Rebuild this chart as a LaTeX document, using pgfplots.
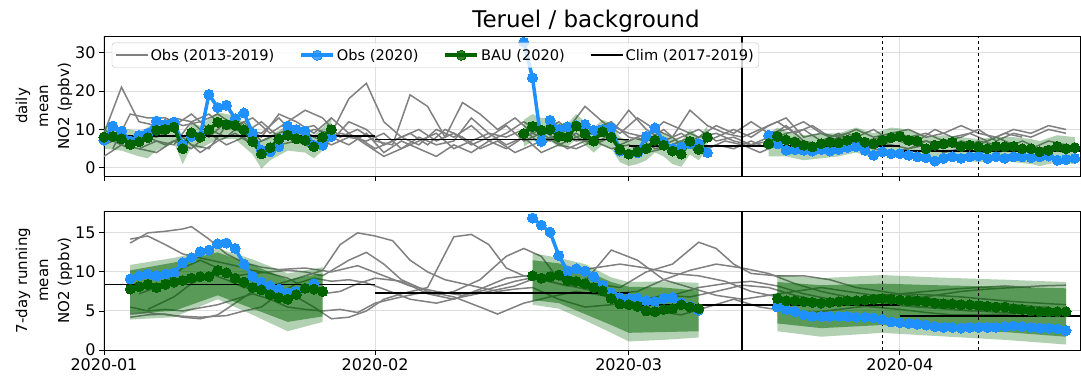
\documentclass[border=0pt]{standalone}
\usepackage{pgfplots}
\pgfplotsset{compat=1.18}
\usepackage{fontspec}
\setmainfont{DejaVu Sans}

\definecolor{obsblue}{RGB}{30,144,255}
\definecolor{baugreen}{RGB}{0,100,0}
\definecolor{gridgray}{RGB}{222,222,222}
\definecolor{greyobs}{RGB}{128,128,128}

\pgfplotsset{
  panel/.style={
    scale only axis, width=976pt,
    xmin=0, xmax=111.6,
    xtick={0,31,60,91},
    xtick pos=left, ytick pos=left,
    tick align=outside, major tick length=5pt,
    axis line style={line width=0.9pt},
    every tick/.style={black, line width=0.9pt},
    grid=major, grid style={gridgray, line width=1pt},
    tick label style={font=\fontsize{16}{18}\selectfont},
    /pgf/number format/assume math mode=true,
    ylabel style={align=center, font=\fontsize{15}{18}\selectfont, yshift=-4pt},
    legend image code/.code={\draw[mark repeat=2,mark phase=2] plot coordinates {(0pt,0pt) (16pt,0pt) (32pt,0pt)};},
  },
  greyline/.style={greyobs, line width=1.5pt, no markers},
  obs/.style={obsblue, line width=3.5pt, mark=*, mark size=5pt, mark options={obsblue, line width=0pt}},
  bau/.style={baugreen, line width=3.5pt, mark=*, mark size=5pt, mark options={baugreen, line width=0pt}},
  clim/.style={black, line width=1.8pt, no markers},
  bandlight/.style={draw=none, fill=baugreen, fill opacity=0.3, forget plot},
  banddark/.style={draw=none, fill=baugreen, fill opacity=0.5, forget plot},
}

\begin{document}
\begin{tikzpicture}
\useasboundingbox (-104pt,-28pt) rectangle (977pt,350pt);

% ---------------- top panel: daily mean
\begin{axis}[panel,
  at={(0pt,174pt)}, anchor=south west, height=140pt,
  ymin=-2.1, ymax=34.3, ytick={0,10,20,30},
  xticklabels={},
  ylabel={daily\\[3pt]mean\\[3pt]NO2 (ppbv)},
  title={Teruel / background},
  title style={font=\fontsize{23}{27}\selectfont, yshift=-6pt, xshift=-6pt},
  legend columns=4,
  legend cell align=left,
  legend style={at={(0.008,0.952)}, anchor=north west, draw=gridgray!70!gray,
    rounded corners=3pt, fill=white, fill opacity=0.8, text opacity=1,
    font=\fontsize{14.6}{17}\selectfont, inner xsep=3pt, inner ysep=4pt,
    /tikz/every even column/.append style={column sep=23pt}},
]
\addlegendimage{greyline}\addlegendentry{Obs (2013-2019)}
\addlegendimage{obs}\addlegendentry{Obs (2020)}
\addlegendimage{bau}\addlegendentry{BAU (2020)}
\addlegendimage{clim}\addlegendentry{Clim (2017-2019)}

% grey: other years
\addplot[greyline, forget plot] coordinates {(0,9)(2,21)(4,12)(6,11)(8,13)(10,12)(12,8)(14,12)(16,10)(18,9)(20,13)(22,8)(24,10)(26,9)(28,18)(30,22)(32,12)(34,8)(36,6)(38,10)(40,8)(42,11)(44,7)(46,9)(48,12)(50,9)(52,6)(54,8)(56,10)(58,12)(60,8)(62,7)(64,10)(66,6)(68,8)(70,9)(72,7)(74,6)(76,8)(78,11)(80,7)(82,6)(84,8)(86,7)(88,6)(90,8)(92,6)(94,7)(96,5)(98,7)(100,6)(102,8)(104,6)(106,5)(108,7)(110,6)};
\addplot[greyline, forget plot] coordinates {(1,5)(3,14)(5,13)(7,13)(9,11)(11,12)(13,14)(15,11)(17,13)(19,9)(21,12)(23,15)(25,13)(27,8)(29,10)(31,7)(33,6)(35,19)(37,16)(39,8)(41,17)(43,14)(45,10)(47,13)(49,9)(51,7)(53,10)(55,16)(57,12)(59,9)(61,13)(63,10)(65,8)(67,15)(69,11)(71,9)(73,8)(75,10)(77,12)(79,9)(81,11)(83,8)(85,9)(87,7)(89,8)(91,9)(93,7)(95,10)(97,8)(99,9)(101,7)(103,9)(105,8)};
\addplot[greyline, forget plot] coordinates {(0,3)(2,6)(4,5)(6,4)(8,7)(10,5)(12,9)(14,6)(16,8)(18,4)(20,6)(22,7)(24,5)(26,8)(28,6)(30,9)(32,4)(34,7)(36,5)(38,3)(40,6)(42,4)(44,7)(46,5)(48,8)(50,4)(52,6)(54,5)(56,7)(58,5)(60,6)(62,4)(64,5)(66,7)(68,4)(70,6)(72,5)(74,7)(76,5)(78,8)(80,6)(82,5)(84,4)(86,6)(88,5)(90,4)(92,5)(94,6)(96,4)(98,5)(100,6)(102,4)(104,5)(106,4)(108,5)(110,4)};
\addplot[greyline, forget plot] coordinates {(0,10)(2,7)(4,9)(6,8)(8,10)(10,6)(12,5)(14,11)(16,9)(18,12)(20,8)(22,10)(24,11)(26,7)(28,12)(30,10)(32,6)(34,8)(36,10)(38,7)(40,9)(42,6)(44,8)(46,11)(48,7)(50,9)(52,12)(54,8)(56,6)(58,9)(60,15)(62,10)(64,7)(66,9)(68,6)(70,8)(72,10)(74,8)(76,11)(78,13)(80,8)(82,9)(84,7)(86,8)(88,10)(90,7)(92,8)(94,9)(96,7)(98,8)(100,10)(102,7)(104,9)(106,8)(108,10)(110,9)};
\addplot[greyline, forget plot] coordinates {(1,7)(3,5)(5,8)(7,6)(9,8)(11,4)(13,7)(15,9)(17,6)(19,8)(21,10)(23,7)(25,6)(27,9)(29,8)(31,5)(33,7)(35,9)(37,6)(39,10)(41,8)(43,5)(45,7)(47,4)(49,6)(51,8)(53,5)(55,7)(57,9)(59,6)(61,8)(63,5)(65,6)(67,8)(69,5)(71,7)(73,6)(75,4)(77,6)(79,8)(81,5)(83,6)(85,7)(87,5)(89,6)(91,8)(93,6)(95,5)(97,6)(99,4)(101,6)(103,5)(105,7)(107,5)(109,6)(111,5)};
\addplot[greyline, forget plot] coordinates {(0,6)(2,8)(4,6)(6,10)(8,11)(10,14)(12,10)(14,8)(16,12)(18,7)(20,9)(22,11)(24,8)(26,6)(28,8)(30,7)(32,9)(34,5)(36,8)(38,6)(40,7)(42,13)(44,9)(46,8)(48,10)(50,6)(52,9)(54,7)(56,8)(58,11)(60,9)(62,8)(64,12)(66,10)(68,8)(70,11)(72,9)(74,12)(76,9)(78,10)(80,12)(82,9)(84,8)(86,10)(88,8)(90,9)(92,10)(94,8)(96,9)(98,11)(100,9)(102,8)(104,10)(106,9)(108,11)(110,10)};
\addplot[greyline, forget plot] coordinates {(4,5)(6,7)(8,6)(10,12)(12,14)(14,10)(16,11)(18,8)(20,14)(22,12)(24,9)(26,13)(28,9)(30,6)(32,3)(36,7)(38,9)(40,5)(42,7)(44,9)(46,6)(48,8)(50,10)(52,7)(54,9)(56,6)(58,8)(60,7)(62,9)(64,6)(66,8)(68,10)(70,7)(72,8)(74,6)(76,7)(78,9)(80,10)(82,7)(84,9)(86,6)(88,7)(90,6)(92,5)(94,7)(96,6)(98,5)(100,7)(102,6)(104,5)};

% BAU uncertainty band
\addplot[bandlight] coordinates {(0,5.0)(2,4.5)(4,3.0)(5,2.5)(6,4.5)(8,6.5)(9,1.0)(10,5.5)(11,5.0)(13,7.5)(15,7.5)(17,3.5)(18,-0.2)(19,2.0)(21,4.5)(23,4.0)(24,2.5)(25,4.5)(26,7.0)
  (26,13.0)(25,10.5)(24,8.5)(23,9.5)(21,11.0)(19,8.5)(18,7.0)(17,10.0)(15,13.5)(13,14.5)(11,11.0)(10,11.5)(9,8.0)(8,13.0)(6,12.0)(5,10.5)(4,9.5)(2,10.5)(0,11.0)};
\addplot[bandlight] coordinates {(48,5.5)(49,7.0)(50,6.5)(51,7.0)(52,5.5)(53,5.5)(54,7.5)(55,6.0)(56,4.0)(57,6.0)(58,5.0)(59,1.5)(60,0.5)(61,1.0)(62,2.0)(63,4.0)(64,3.0)(65,1.0)(66,0.3)(67,3.5)(68,2.0)(69,5.0)
  (69,11.0)(68,8.0)(67,10.0)(66,7.0)(65,8.0)(64,9.0)(63,10.5)(62,8.5)(61,7.5)(60,7.0)(59,8.0)(58,11.5)(57,12.5)(56,10.5)(55,12.0)(54,14.0)(53,11.5)(52,11.5)(51,13.0)(50,13.0)(49,14.0)(48,12.5)};
\addplot[bandlight] coordinates {(76,3.0)(78,3.0)(80,2.0)(82,2.5)(84,3.0)(86,4.0)(88,2.5)(90,4.0)(92,3.5)(94,1.5)(96,2.5)(98,2.0)(100,1.5)(102,2.0)(104,1.5)(106,1.0)(107,0.5)(109,1.5)(111,1.0)
  (111,8.0)(109,8.5)(107,7.0)(106,7.5)(104,8.0)(102,8.0)(100,7.5)(98,8.0)(96,8.5)(94,8.0)(92,10.0)(90,10.5)(88,9.0)(86,10.5)(84,9.0)(82,9.0)(80,8.5)(78,9.5)(77,10.5)(76,9.0)};

% climatology
\addplot[clim, forget plot] coordinates {(0,8.2)(31,8.2)};
\addplot[clim, forget plot] coordinates {(31,7.4)(60,7.4)};
\addplot[clim, forget plot] coordinates {(60,5.7)(91,5.7)};
\addplot[clim, forget plot] coordinates {(91,4.3)(112,4.3)};

% observations 2020
\addplot[obs, forget plot] coordinates {(0,7.2)(1,10.9)(2,9.6)(3,7.0)(4,8.5)(5,9.0)(6,12.2)(7,11.3)(8,11.9)(9,6.0)(10,8.2)(11,8.2)(12,19.1)(13,15.7)(14,16.3)(15,12.8)(16,14.3)(17,9.0)(18,4.6)(19,4.2)(20,5.5)(21,10.9)(22,10.0)(23,9.6)(24,5.9)(25,5.9)(26,8.2)};
\addplot[obs, forget plot] coordinates {(48,32.7)(49,23.4)(50,6.9)(51,12.4)(52,10.0)(53,10.7)(54,11.0)(55,11.3)(56,9.8)(57,10.0)(58,10.5)(59,4.4)(60,3.6)(61,3.9)(62,8.2)(63,10.4)(64,6.8)(65,5.0)(66,5.5)(67,6.3)(68,6.3)(69,4.0)};
\addplot[obs, forget plot] coordinates {(76,8.5)(77,6.3)(78,4.6)(79,4.8)(80,4.6)(81,4.4)(82,4.8)(83,4.4)(84,4.8)(85,5.3)(86,5.5)(87,4.6)(88,3.3)(89,4.2)(90,3.7)(91,3.7)(92,3.3)(93,2.9)(94,2.7)(95,1.8)(96,2.5)(97,2.9)(98,2.5)(99,2.9)(100,3.1)(101,2.5)(102,2.9)(103,2.5)(104,2.9)(105,2.9)(106,2.7)(107,2.9)(108,3.1)(109,2.0)(110,2.2)(111,2.5)};

% business as usual
\addplot[bau, forget plot] coordinates {(0,8.0)(1,8.2)(2,7.6)(3,6.1)(4,6.8)(5,7.9)(6,9.8)(7,10.0)(8,10.6)(9,5.0)(10,9.1)(11,8.0)(12,9.9)(13,11.9)(14,11.3)(15,11.1)(16,9.9)(17,6.9)(18,3.7)(19,5.3)(20,7.5)(21,8.5)(22,7.6)(23,7.2)(24,5.5)(25,8.0)(26,10.0)};
\addplot[bau, forget plot] coordinates {(48,8.9)(49,10.8)(50,9.8)(51,10.0)(52,8.2)(53,8.0)(54,10.9)(55,8.9)(56,7.0)(57,9.4)(58,8.0)(59,4.8)(60,3.6)(61,4.2)(62,5.0)(63,7.2)(64,5.9)(65,4.4)(66,3.6)(67,6.9)(68,4.8)(69,8.0)};
\addplot[bau, forget plot] coordinates {(76,6.3)(77,8.2)(78,7.3)(79,6.7)(80,5.9)(81,5.5)(82,6.3)(83,6.7)(84,6.5)(85,7.2)(86,8.0)(87,6.7)(88,6.3)(89,7.2)(90,7.9)(91,8.2)(92,7.2)(93,7.0)(94,5.0)(95,5.9)(96,6.3)(97,6.7)(98,5.6)(99,5.9)(100,5.5)(101,5.0)(102,5.6)(103,5.5)(104,5.6)(105,5.0)(106,5.0)(107,4.2)(108,4.6)(109,5.6)(110,5.0)(111,5.3)};

% lockdown markers
\addplot[black, line width=2pt, forget plot] coordinates {(73,-2.1)(73,34.3)};
\addplot[black, line width=1pt, dashed, forget plot] coordinates {(89,-2.1)(89,34.3)};
\addplot[black, line width=1pt, dashed, forget plot] coordinates {(100,-2.1)(100,34.3)};
\end{axis}

% ---------------- bottom panel: 7-day running mean
\begin{axis}[panel,
  at={(0pt,0pt)}, anchor=south west, height=139pt,
  ymin=0, ymax=17.8, ytick={0,5,10,15},
  xticklabels={2020-01,2020-02,2020-03,2020-04},
  ylabel={7-day running\\[3pt]mean\\[3pt]NO2 (ppbv)},
]
\addplot[greyline] coordinates {(3,13.7)(5,15.0)(7,15.2)(9,15.5)(10,15.8)(12,14.2)(14,12.3)(16,11.2)(18,10.6)(20,10.3)(23,10.5)(26,10.0)(29,10.8)(32,9.5)(35,8.2)(38,7.5)(41,7.0)(44,7.8)(47,8.8)(50,9.5)(53,8.8)(56,7.5)(59,6.0)(62,5.5)(65,7.0)(68,8.0)(71,8.5)(74,8.8)(77,8.2)(80,7.2)(83,6.5)(86,6.0)(89,6.2)(92,6.5)(95,7.0)(98,7.5)(101,7.8)(104,8.0)(107,8.2)(110,8.3)};
\addplot[greyline] coordinates {(3,14.2)(5,14.6)(7,13.5)(9,12.3)(11,11.8)(13,11.3)(15,10.8)(17,10.2)(19,9.8)(21,9.2)(23,8.0)(25,7.2)(27,7.5)(29,8.5)(31,9.2)(34,8.8)(37,7.2)(40,6.5)(43,7.8)(46,9.2)(49,9.6)(52,8.5)(55,7.8)(58,7.2)(61,7.5)(64,9.0)(67,10.2)(70,11.0)(73,10.5)(76,9.8)(79,8.5)(82,7.5)(85,6.8)(88,6.2)(91,5.8)(94,5.5)(97,5.2)(100,5.0)(103,4.8)(106,5.0)(109,5.3)};
\addplot[greyline] coordinates {(3,4.2)(5,4.5)(7,4.6)(9,4.2)(11,4.0)(13,4.5)(15,6.0)(17,7.5)(19,8.2)(21,8.8)(23,9.5)(25,10.2)(27,13.5)(29,15.0)(31,14.6)(33,14.0)(35,11.5)(37,10.0)(39,9.0)(41,8.5)(43,8.0)(45,7.5)(47,7.8)(49,8.0)(52,6.5)(55,5.5)(58,5.8)(61,6.3)(64,7.0)(67,6.8)(70,7.5)(73,8.3)(76,8.0)(79,7.0)(82,6.2)(85,5.8)(88,5.5)(91,5.2)(94,4.8)(97,4.5)(100,4.5)(103,4.6)(106,4.7)(109,4.8)};
\addplot[greyline] coordinates {(3,4.6)(5,4.8)(8,4.4)(11,4.2)(14,4.4)(16,5.0)(18,5.5)(20,7.2)(22,8.5)(24,9.2)(26,8.8)(28,9.0)(30,8.6)(32,7.8)(35,6.5)(38,6.0)(41,6.8)(44,7.5)(47,8.2)(50,9.5)(53,9.8)(56,10.5)(59,11.0)(62,10.5)(65,9.8)(68,9.5)(71,8.8)(74,7.5)(77,6.8)(80,6.5)(83,6.3)(86,6.6)(89,7.0)(92,7.2)(95,7.0)(98,6.8)(101,6.5)(104,6.2)(107,6.0)(110,5.8)};
\addplot[greyline] coordinates {(5,5.2)(8,6.8)(10,8.5)(12,9.8)(14,9.0)(16,8.0)(18,7.8)(20,7.0)(22,6.8)(24,5.5)(26,4.0)(28,4.2)(30,5.0)(32,6.5)(34,7.2)(37,8.0)(40,14.5)(42,14.8)(44,13.5)(46,10.5)(48,9.5)(50,9.0)(53,8.2)(56,8.5)(59,8.0)(62,10.0)(65,11.0)(68,13.8)(70,13.0)(72,11.0)(74,9.8)(77,9.5)(80,9.5)(83,9.0)(86,8.0)(89,7.5)(92,7.0)(95,6.5)(98,6.2)(101,6.0)(104,5.8)(107,5.5)};
\addplot[greyline] coordinates {(4,7.2)(6,8.0)(9,10.5)(11,11.5)(13,10.5)(15,9.5)(17,9.8)(19,10.0)(21,10.2)(23,10.0)(25,9.5)(28,11.5)(30,12.5)(32,11.0)(34,9.0)(36,8.0)(38,7.0)(40,7.5)(43,9.0)(46,12.0)(48,13.0)(50,12.0)(52,9.0)(55,8.8)(58,12.8)(61,11.5)(64,9.0)(67,8.0)(70,7.0)(73,6.5)(76,7.0)(79,7.5)(82,8.0)(85,7.5)(88,7.0)(91,7.2)(94,7.5)(97,7.8)(100,8.0)(103,8.2)(106,8.0)};
\addplot[greyline] coordinates {(3,5.5)(5,5.0)(7,5.2)(9,5.0)(11,5.4)(13,5.8)(15,6.5)(17,7.2)(19,6.5)(21,5.5)(23,5.2)(25,5.0)(27,5.2)(29,4.8)(31,6.0)(34,6.8)(37,7.5)(40,6.8)(43,5.5)(45,4.6)(48,6.0)(51,6.8)(54,7.5)(57,7.0)(60,6.2)(63,5.0)(66,4.5)(69,5.5)(72,6.5)(75,5.5)(78,5.0)(81,4.8)(84,5.2)(87,5.6)(90,5.8)(93,5.5)(96,5.3)(99,5.0)(102,5.2)(105,5.5)(108,5.5)};

% BAU bands: outer (light) and inner (dark)
\addplot[bandlight] coordinates {(3,3.9)(8,4.2)(13,6.5)(17,4.5)(21,2.4)(25,3.6)(25,10.6)(21,9.8)(17,11.6)(13,13.0)(8,11.8)(3,10.9)};
\addplot[banddark] coordinates {(3,4.7)(8,5.0)(13,7.0)(17,5.3)(21,3.6)(25,4.3)(25,9.8)(21,9.0)(17,10.9)(13,12.5)(8,11.2)(3,10.2)};
\addplot[bandlight] coordinates {(49,5.8)(52,5.3)(55,3.8)(58,2.2)(60,1.1)(64,1.3)(68,1.6)(68,8.6)(64,8.8)(60,8.7)(58,9.3)(55,11.0)(52,11.8)(49,12.4)};
\addplot[banddark] coordinates {(49,6.4)(52,6.0)(55,4.6)(58,3.2)(60,2.2)(64,2.3)(68,2.4)(68,7.6)(64,8.0)(60,8.1)(58,8.7)(55,10.2)(52,11.1)(49,11.5)};
\addplot[bandlight] coordinates {(77,2.4)(82,1.7)(89,2.2)(95,1.8)(103,1.3)(110,0.7)(110,8.7)(103,9.0)(95,9.3)(89,9.6)(82,9.2)(77,9.6)};
\addplot[banddark] coordinates {(77,3.4)(82,2.8)(89,3.2)(95,2.8)(103,2.3)(110,1.7)(110,7.9)(103,8.1)(95,8.3)(89,8.5)(82,8.3)(77,8.7)};

\addplot[clim] coordinates {(0,8.4)(31,8.4)};
\addplot[clim] coordinates {(31,7.35)(60,7.35)};
\addplot[clim] coordinates {(60,5.8)(91,5.8)};
\addplot[clim] coordinates {(91,4.4)(112,4.4)};

\addplot[obs] coordinates {(3,9.1)(4,9.5)(5,9.7)(6,9.5)(7,9.7)(8,9.9)(9,11.2)(10,11.8)(11,12.6)(12,12.8)(13,13.6)(14,13.7)(15,13.0)(16,11.0)(17,9.4)(18,8.7)(19,8.2)(20,7.8)(21,7.3)(22,7.5)(23,7.9)(24,8.5)};
\addplot[obs] coordinates {(49,16.9)(50,16.0)(51,15.1)(52,12.1)(53,10.1)(54,10.4)(55,10.1)(56,9.4)(57,8.3)(58,7.3)(59,6.7)(60,6.6)(61,6.7)(62,6.3)(63,6.2)(64,6.6)(65,6.7)(66,6.0)(67,5.6)(68,5.1)};
\addplot[obs] coordinates {(77,5.5)(78,5.2)(79,4.9)(80,4.5)(81,4.3)(82,4.3)(83,4.3)(84,4.3)(85,4.3)(86,4.2)(87,4.2)(88,4.1)(89,3.9)(90,3.6)(91,3.5)(92,3.4)(93,3.3)(94,3.2)(95,3.0)(96,2.9)(97,2.9)(98,2.8)(99,2.9)(100,2.9)(101,2.9)(102,2.9)(103,3.0)(104,3.1)(105,3.0)(106,2.9)(107,2.8)(108,2.8)(109,2.7)(110,2.5)};

\addplot[bau] coordinates {(3,7.8)(4,8.1)(5,8.4)(6,8.0)(7,8.4)(8,8.7)(9,8.9)(10,9.2)(11,9.4)(12,9.4)(13,10.2)(14,9.9)(15,9.2)(16,8.7)(17,8.0)(18,7.7)(19,7.1)(20,6.7)(21,6.5)(22,7.1)(23,7.9)(24,7.8)(25,7.5)};
\addplot[bau] coordinates {(49,9.5)(50,9.2)(51,9.4)(52,9.6)(53,8.9)(54,8.8)(55,8.5)(56,8.0)(57,7.6)(58,6.6)(59,5.9)(60,5.8)(61,5.6)(62,5.0)(63,4.9)(64,5.2)(65,5.3)(66,5.8)(67,5.5)(68,5.3)};
\addplot[bau] coordinates {(77,6.6)(78,6.3)(79,6.3)(80,6.2)(81,6.1)(82,6.0)(83,6.1)(84,6.2)(85,6.3)(86,6.3)(87,6.4)(88,6.5)(89,6.6)(90,6.5)(91,6.4)(92,6.3)(93,6.3)(94,6.2)(95,6.0)(96,5.9)(97,5.9)(98,5.8)(99,5.8)(100,5.7)(101,5.6)(102,5.5)(103,5.5)(104,5.3)(105,5.2)(106,5.0)(107,4.9)(108,4.9)(109,4.9)(110,4.9)};

\addplot[black, line width=2pt] coordinates {(73,0)(73,17.8)};
\addplot[black, line width=1pt, dashed] coordinates {(89,0)(89,17.8)};
\addplot[black, line width=1pt, dashed] coordinates {(100,0)(100,17.8)};
\end{axis}
\end{tikzpicture}
\end{document}
